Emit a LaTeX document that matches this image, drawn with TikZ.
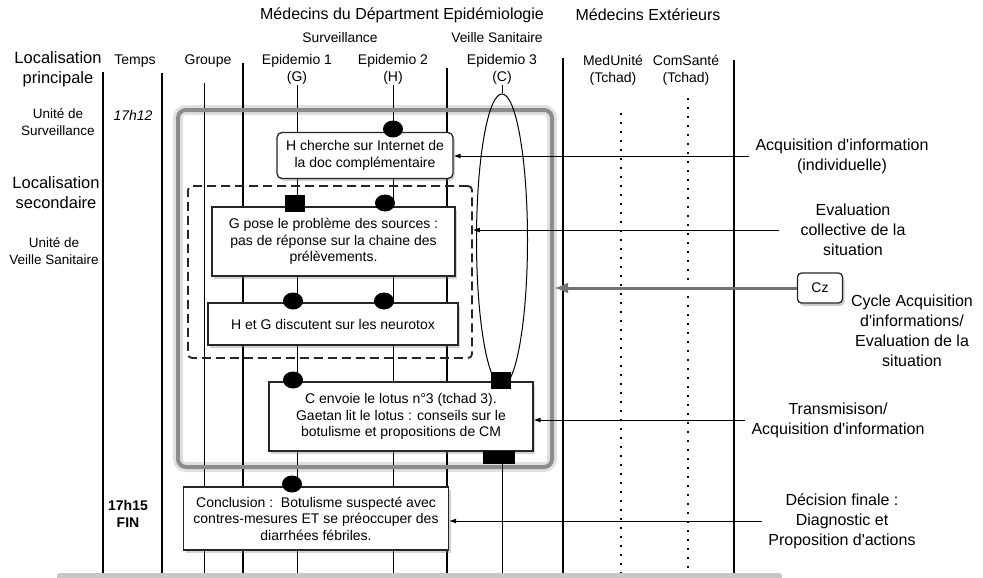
\documentclass[tikz,border=0pt]{standalone}
\usepackage{fontspec}
\setmainfont{Liberation Sans}[Ligatures=TeXOff]
\usetikzlibrary{arrows.meta,shapes.geometric,shadows}

\begin{document}
\begin{tikzpicture}[x=1pt,y=-1pt,
    every node/.style={inner sep=0pt},
    title/.style={font=\fontsize{16}{19}\selectfont},
    sub/.style={font=\fontsize{13.8}{16}\selectfont},
    hdr/.style={align=center,font=\fontsize{14}{17}\selectfont},
    loc/.style={align=center,font=\fontsize{16.5}{20}\selectfont},
    unit/.style={align=center,font=\fontsize{13.5}{17}\selectfont},
    lane/.style={line width=2.4pt},
    actor/.style={line width=0.9pt},
    ext/.style={line width=2.6pt,dash pattern=on 1.6pt off 7.4pt},
    evbox/.style={draw=black!85,line width=1.3pt,fill=white,align=center,
        font=\fontsize{14}{16.5}\selectfont,
        drop shadow={opacity=0.35,shadow xshift=2pt,shadow yshift=-2.5pt}},
    dot/.style={ellipse,fill=black,minimum width=20pt,minimum height=17pt},
    sq/.style={rectangle,fill=black,minimum width=20pt,minimum height=17pt},
    note/.style={align=center,inner sep=6pt,font=\fontsize{16}{20}\selectfont},
    link/.style={line width=0.9pt,-{Latex[length=7pt,width=5pt]}},
  ]
  \useasboundingbox (0,0) rectangle (983,578);
  \coordinate (base) at (0,573);

  % en-tetes
  \node[title] (deptT) at (402,15) {Médecins du Départment Epidémiologie};
  \node[title] (extT) at (648,15) {Médecins Extérieurs};
  \node[sub] (survT) at (340,38) {Surveillance};
  \node[sub] (veilT) at (497,38) {Veille Sanitaire};
  \node[loc] (locP) at (58,69) {Localisation\\principale};
  \node[hdr] (hTemps) at (135,61) {Temps};
  \node[hdr] (hGrp) at (208,61) {Groupe};
  \node[hdr] (hG) at (297,69.5) {Epidemio 1\\(G)};
  \node[hdr] (hH) at (393,69.5) {Epidemio 2\\(H)};
  \node[hdr] (hC) at (502,69.5) {Epidemio 3\\(C)};
  \node[hdr] (hMed) at (613,70) {MedUnité\\(Tchad)};
  \node[hdr] (hCom) at (686,70) {ComSanté\\(Tchad)};

  % colonne de gauche
  \node[unit] (uSurv) at (58,122) {Unité de\\Surveillance};
  \node[loc] (locS) at (56,193) {Localisation\\secondaire};
  \node[unit] (uVeille) at (54,251) {Unité de\\Veille Sanitaire};
  \node[font=\fontsize{14}{17}\selectfont\itshape] (t1) at (133,115) {17h12};
  \node[align=center,font=\fontsize{14}{17}\selectfont\bfseries] (t2) at (128,514) {17h15\\FIN};

  % lignes de vie
  \foreach \x/\y in {103/72,162/73,243/63,447/68,563/58,734/60}
    \draw[lane] (\x,\y) -- (\x,573);
  \draw[actor] (204,83) -- (204,573);
  \draw[actor] (hG.south) -- (hG.south |- base);
  \draw[actor] (hH.south) -- (hH.south |- base);
  \draw[ext] (621,113) -- (621,573);
  \draw[ext] (688,98) -- (688,573);
  \fill[black!22,rounded corners=3pt] (57,573) rectangle (782,590);

  % cycle et evaluation
  \node[draw=black!45,line width=4pt,rounded corners=8pt,
        preaction={draw=black,opacity=0.12,line width=10pt},
        minimum width=374pt,minimum height=357pt] (cycle) at (365,288.5) {};
  \node[draw=black!85,line width=1.8pt,dash pattern=on 9pt off 5pt,rounded corners=4pt,
        minimum width=284pt,minimum height=172pt] (evalzone) at (330,272) {};
  \node[ellipse,draw,line width=1pt,minimum width=51pt,minimum height=292pt] (veille) at (502,240) {};
  \draw[actor] (hC.south) -- (veille.north);

  % evenements
  \node[evbox,rounded corners=5pt,minimum width=176pt,minimum height=46pt] (search) at (365,155.5)
    {H cherche sur Internet de\\la doc complémentaire};
  \node[evbox,minimum width=243pt,minimum height=69pt] (sources) at (333.5,241.5)
    {G pose le problème des sources :\\pas de réponse sur la chaine des\\prélèvements.};
  \node[evbox,minimum width=250pt,minimum height=42pt] (neuro) at (333,324)
    {H et G discutent sur les neurotox};
  \node[evbox,minimum width=264pt,minimum height=69pt] (lotus) at (401,416.5)
    {C envoie le lotus n°3 (tchad 3).\\Gaetan lit le lotus : conseils sur le\\botulisme et propositions de CM};
  \node[evbox,minimum width=265pt,minimum height=63pt] (concl) at (316,518.5)
    {Conclusion :\ \ Botulisme suspecté avec\\contres-mesures ET se préoccuper des\\diarrhées fébriles.};

  % marqueurs
  \node[dot] (mH1) at (393,129) {};
  \node[sq] (mG3) at (295,203) {};
  \node[dot] (mH3) at (385,203) {};
  \node[dot] (mG4) at (293,301) {};
  \node[dot] (mH4) at (384,301) {};
  \node[dot] (mG5) at (293,380) {};
  \node[sq] (mC5) at (501,380) {};
  \node[sq,minimum width=32pt,minimum height=13pt] (mC6) at (499,457) {};
  \node[dot] (mG6) at (292,484) {};
  \draw[actor] (hC.south |- mC6.south) -- (hC.south |- base);

  % commentaires de droite
  \node[note] (lblAcq) at (842,156) {Acquisition d'information\\(individuelle)};
  \node[note] (lblEval) at (853,230) {Evaluation\\collective de la\\situation};
  \node[note] (lblCycle) at (912,331) {Cycle Acquisition\\d'informations/\\Evaluation de la\\situation};
  \node[note] (lblTrans) at (838,420) {Transmisison/\\Acquisition d'information};
  \node[note] (lblDec) at (842,521) {Décision finale :\\Diagnostic et\\Proposition d'actions};
  \node[draw=black!85,line width=1.3pt,fill=white,rounded corners=4pt,
        minimum width=45pt,minimum height=30pt,font=\fontsize{14}{17}\selectfont,
        drop shadow={opacity=0.4,shadow xshift=2pt,shadow yshift=-3pt}] (cz) at (820,288) {Cz};

  \draw[link] (lblAcq.west) -- (lblAcq.west -| search.east);
  \draw[link] ([xshift=-15pt]lblEval.west) -- (lblEval.west -| evalzone.east);
  \draw[link] (lblTrans.west) -- (lblTrans.west -| lotus.east);
  \draw[link] (lblDec.west) -- (lblDec.west -| concl.east);
  \draw[line width=3pt,black!55,-{Latex[length=14pt,width=11pt]}] (cz.west) -- (cz.west -| cycle.east);
\end{tikzpicture}
\end{document}
